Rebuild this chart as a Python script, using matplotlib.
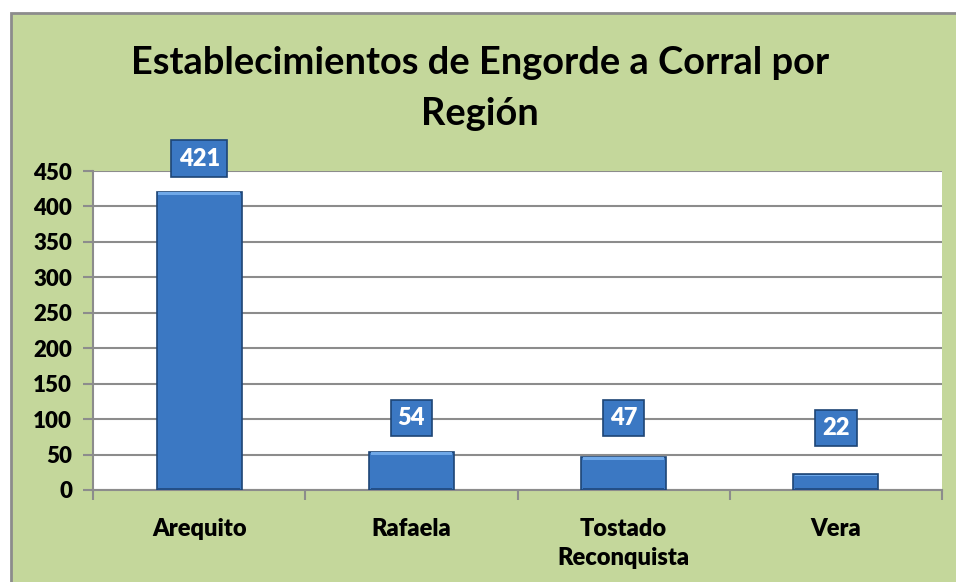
import matplotlib
matplotlib.use("Agg")
import matplotlib.pyplot as plt
from matplotlib.patches import Rectangle
import numpy as np

categories = ["Arequito", "Rafaela", "Tostado\nReconquista", "Vera"]
values = [421, 54, 47, 22]
yticks = [0, 50, 100, 150, 200, 250, 300, 350, 400, 450]
title_lines = ["Establecimientos de Engorde a Corral por", "Región"]

plt.rcParams['font.family'] = ['Lato', 'DejaVu Sans']

W, H = 956, 582
fig = plt.figure(figsize=(W / 100, H / 100), dpi=100)
fig.patch.set_facecolor('white')

# green chart-area background with gray border (cropped at right/bottom)
bg = Rectangle((11 / W, 0 - 0.01), 1.02, (H - 13) / H + 0.01, transform=fig.transFigure,
               facecolor='#C4D79B', edgecolor='#8C8C8C', linewidth=2, zorder=-10)
fig.patches.append(bg)

ax = fig.add_axes([93 / W, 1 - 490 / H, (942 - 93) / W, (490 - 171) / H])
ax.set_zorder(1)
ax.set_facecolor('white')

x = np.arange(len(categories))
bar_w = 0.4
bars = ax.bar(x, values, width=bar_w, color='#3B78C3', edgecolor='#1E4576',
              linewidth=1.2, zorder=3)

# simple bevel highlights
for b in bars:
    bx, by = b.get_x(), b.get_y()
    bw, bh = b.get_width(), b.get_height()
    ax.add_patch(Rectangle((bx + bw * 0.02, by + bh - min(bh * 0.12, 4.5)), bw * 0.96, min(bh * 0.1, 3.5),
                           facecolor='#6FA8E8', edgecolor='none', zorder=4))
    ax.add_patch(Rectangle((bx + bw * 0.02, by), bw * 0.96, min(bh * 0.1, 2.5),
                           facecolor='#234F88', edgecolor='none', zorder=4))

offsets = [33, 34, 39, 46]
for xi, v, off in zip(x, values, offsets):
    ax.annotate(str(v), xy=(xi, v), xytext=(0, off), textcoords='offset pixels',
                ha='center', va='center', color='white', fontsize=17, fontweight='heavy',
                zorder=6, annotation_clip=False,
                bbox=dict(boxstyle='square,pad=0.3', facecolor='#3B78C3',
                          edgecolor='#1E4576', linewidth=1.2))

ax.set_xlim(-0.5, len(categories) - 0.5)
ax.set_ylim(0, 450)
ax.set_yticks(yticks)
ax.set_yticklabels([str(t) for t in yticks], fontsize=16, fontweight='heavy')
ax.yaxis.grid(True, color='#8C8C8C', linewidth=1.5, zorder=1)
ax.set_axisbelow(True)

ax.set_xticks(np.arange(-0.5, len(categories), 1.0))
ax.set_xticklabels([])
ax.set_xticks(x, minor=True)
ax.set_xticklabels(categories, minor=True, fontsize=17, fontweight='heavy', linespacing=1.4)
ax.tick_params(axis='x', which='minor', length=0, pad=20)
ax.tick_params(axis='x', which='major', length=7, width=1.5, color='#8C8C8C', direction='out')
ax.tick_params(axis='y', length=7, width=1.5, color='#8C8C8C', pad=8)

for s in ['top', 'right']:
    ax.spines[s].set_visible(False)
for s in ['left', 'bottom']:
    ax.spines[s].set_color('#8C8C8C')
    ax.spines[s].set_linewidth(1.5)

for line, yb in zip(title_lines, [74, 125]):
    fig.text(480 / W, 1 - yb / H, line, ha='center', va='baseline', fontsize=27.4,
             fontweight='bold')

fig.savefig('out.png', dpi=100)
